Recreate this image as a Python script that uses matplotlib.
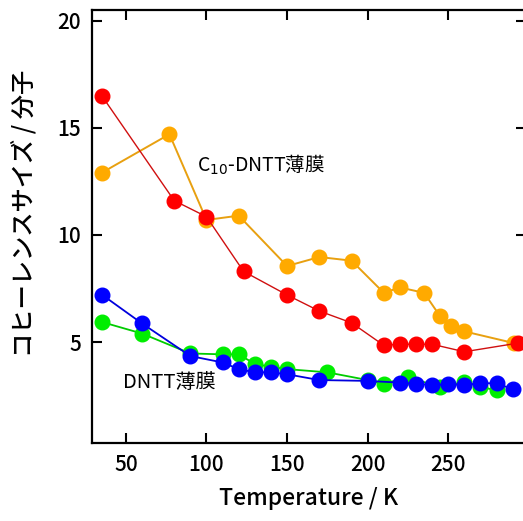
import matplotlib.pyplot as plt

plt.rcParams['font.family'] = ['Noto Sans CJK JP', 'DejaVu Sans']

# C10-DNTT film, two samples
t_red = [35, 80, 100, 123, 150, 170, 190, 210, 220, 230, 240, 260, 293]
s_red = [16.5, 11.6, 10.85, 8.3, 7.2, 6.45, 5.9, 4.85, 4.9, 4.9, 4.9, 4.55, 4.95]

t_orange = [35, 77, 100, 120, 150, 170, 190, 210, 220, 235, 245, 252, 260, 291]
s_orange = [12.9, 14.7, 10.7, 10.9, 8.55, 8.97, 8.8, 7.3, 7.55, 7.3, 6.2, 5.75, 5.5, 4.95]

# DNTT film, two samples
t_blue = [35, 60, 90, 110, 120, 130, 140, 150, 170, 200, 220, 230, 240, 250, 260, 270, 280, 290]
s_blue = [7.22, 5.87, 4.35, 4.05, 3.74, 3.59, 3.59, 3.5, 3.23, 3.19, 3.11, 3.05, 3.0, 3.03, 3.0, 3.08, 3.08, 2.8]

t_green = [35, 60, 90, 110, 120, 130, 140, 150, 175, 200, 210, 225, 245, 260, 270, 280]
s_green = [5.94, 5.4, 4.47, 4.43, 4.43, 3.98, 3.85, 3.74, 3.59, 3.23, 3.05, 3.38, 2.89, 3.14, 2.91, 2.75]

xticks = [50, 100, 150, 200, 250]
yticks = [5, 10, 15, 20]

fig = plt.figure(figsize=(5.23, 5.21), dpi=100)
ax = fig.add_axes([0.176, 0.15, 0.829, 0.831])

ms = 10.5
ax.plot(t_orange, s_orange, '-o', color='#e8a010', lw=1.4, ms=ms,
        mfc='#ffaa00', mec='#ffaa00')
ax.plot(t_red, s_red, '-o', color='#d01010', lw=1.0, ms=ms,
        mfc='#ff0000', mec='#ff0000')
ax.plot(t_green, s_green, '-o', color='#00cc00', lw=1.3, ms=ms,
        mfc='#00ee00', mec='#00ee00')
ax.plot(t_blue, s_blue, '-o', color='#0000dd', lw=1.3, ms=ms,
        mfc='#0000ff', mec='#0000ff')

ax.text(94, 13.25, 'C$_{10}$-DNTT薄膜', fontsize=14, va='center', ha='left')
ax.text(48, 3.1, 'DNTT薄膜', fontsize=14.5, va='center', ha='left')

ax.set_xlim(29, 298)
ax.set_ylim(0.3, 20.5)
ax.set_xticks(xticks)
ax.set_yticks(yticks)
ax.tick_params(direction='in', length=7, width=1.5, top=True, right=True,
               labelsize=15, pad=8)
for lab in ax.get_xticklabels() + ax.get_yticklabels():
    lab.set_fontweight('medium')
for sp in ax.spines.values():
    sp.set_linewidth(1.6)

ax.set_xlabel('Temperature / K', fontsize=16.5, labelpad=8, fontweight='medium')
ax.set_ylabel('コヒーレンスサイズ / 分子', fontsize=17.5, fontweight='medium')
ax.yaxis.set_label_coords(-0.125, 0.53)

fig.savefig('out.png', dpi=100)
